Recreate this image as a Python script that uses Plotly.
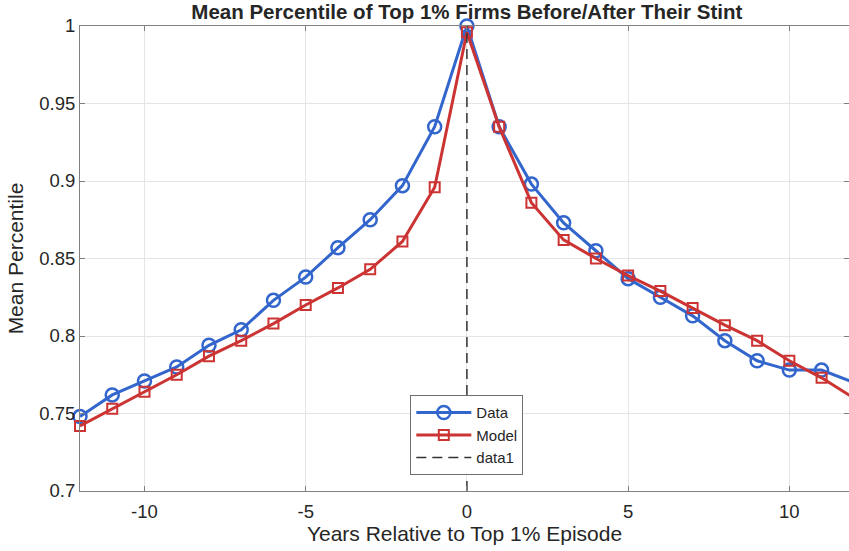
import plotly.graph_objects as go

# Years relative to the top-1% episode
years = list(range(-12, 13))

# Mean percentile, observed firms
data_pct = [0.748, 0.762, 0.771, 0.780, 0.794, 0.804, 0.823, 0.838, 0.857, 0.875,
            0.897, 0.935, 1.000, 0.935, 0.898, 0.873, 0.855, 0.837, 0.825, 0.813,
            0.797, 0.784, 0.778, 0.778, 0.770]

# Mean percentile, model simulation
model_pct = [0.742, 0.753, 0.764, 0.775, 0.787, 0.797, 0.808, 0.820, 0.831, 0.843,
             0.861, 0.896, 0.996, 0.935, 0.886, 0.862, 0.850, 0.839, 0.829, 0.818,
             0.807, 0.797, 0.784, 0.773, 0.760]

# Reference line at the episode year
ref_x = [0, 0]
ref_y = [0.7, 1.0]

x_ticks = [-10, -5, 0, 5, 10]
x_tick_text = ["-10", "-5", "0", "5", "10"]
y_ticks = [0.7, 0.75, 0.8, 0.85, 0.9, 0.95, 1.0]
y_tick_text = ["0.7", "0.75", "0.8", "0.85", "0.9", "0.95", "1"]

BLUE = "#3366CC"
RED = "#CC3333"
TXT = "#262626"
FONT = "Liberation Sans, Arial, Helvetica, sans-serif"

fig = go.Figure()
fig.add_trace(go.Scatter(
    x=years, y=data_pct, name="Data", mode="lines+markers",
    line=dict(color=BLUE, width=3),
    marker=dict(symbol="circle-open", size=13, color=BLUE, line=dict(width=2.5, color=BLUE)),
    cliponaxis=False,
))
fig.add_trace(go.Scatter(
    x=years, y=model_pct, name="Model", mode="lines+markers",
    line=dict(color=RED, width=3),
    marker=dict(symbol="square-open", size=10, color=RED, line=dict(width=2, color=RED)),
    cliponaxis=False,
))
fig.add_trace(go.Scatter(
    x=ref_x, y=ref_y, name="data1", mode="lines",
    line=dict(color="#333333", width=1.5, dash="10px,6px"),
))

axis_common = dict(
    showline=True, linecolor="#808080", linewidth=1, mirror="allticks",
    ticks="inside", ticklen=5, tickcolor="#808080", tickwidth=1,
    showgrid=True, gridcolor="#E5E5E5", gridwidth=1, zeroline=False,
    tickfont=dict(family=FONT, size=18.5, color=TXT),
)

fig.update_layout(
    width=849, height=551,
    margin=dict(l=80, r=0, t=26, b=60),
    plot_bgcolor="white", paper_bgcolor="white",
    title=dict(
        text="<b>Mean Percentile of Top 1% Firms Before/After Their Stint</b>",
        font=dict(family=FONT, size=20.5, color=TXT),
        x=0.503, xanchor="center", xref="paper", y=0.978, yanchor="middle",
    ),
    xaxis=dict(
        range=[-12, 11.85], tickvals=x_ticks, ticktext=x_tick_text,
        ticklabelstandoff=4,
        title=dict(text="Years Relative to Top 1% Episode", font=dict(family=FONT, size=21, color=TXT), standoff=0),
        **axis_common,
    ),
    yaxis=dict(
        range=[0.7, 1.0], tickvals=y_ticks, ticktext=y_tick_text,
        title=dict(text="Mean Percentile", font=dict(family=FONT, size=21, color=TXT), standoff=9),
        **axis_common,
    ),
    legend=dict(
        x=0.503, xanchor="center", y=0.034, yanchor="bottom",
        bgcolor="white", bordercolor="#6E6E6E", borderwidth=1,
        font=dict(family=FONT, size=15, color=TXT),
        itemwidth=55, tracegroupgap=0,
    ),
    showlegend=True,
)

fig.write_html("out.html")
